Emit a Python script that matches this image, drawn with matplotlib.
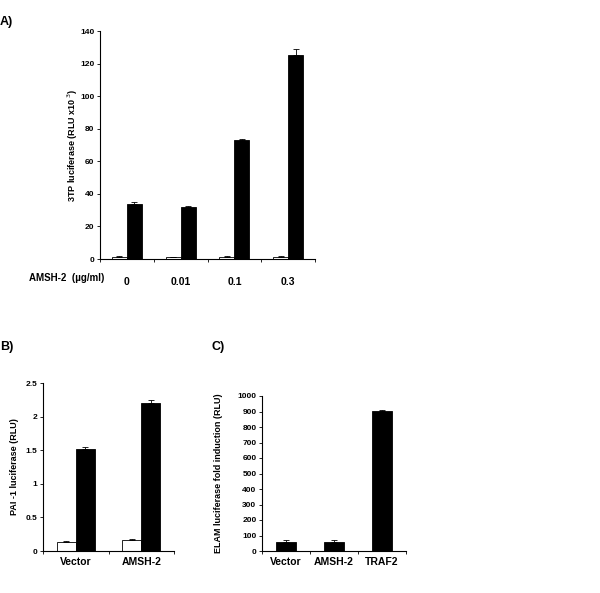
import matplotlib

matplotlib.use("Agg")

import matplotlib.pyplot as plt
import numpy as np

plt.rcParams["font.family"] = ["Liberation Sans", "DejaVu Sans"]

# Panel A: 3TP luciferase
a_doses = ["0", "0.01", "0.1", "0.3"]
a_white = [1.5, 1.0, 1.5, 1.5]
a_black = [34, 32, 73, 125]
a_white_err = [0.2, 0.1, 0.2, 0.2]
a_black_err = [1.0, 0.3, 0.5, 4.0]

# Panel B: PAI-1 luciferase
b_groups = ["Vector", "AMSH-2"]
b_white = [0.13, 0.16]
b_black = [1.52, 2.20]
b_white_err = [0.015, 0.02]
b_black_err = [0.03, 0.05]

# Panel C: ELAM luciferase
c_groups = ["Vector", "AMSH-2", "TRAF2"]
c_values = [60, 55, 905]
c_err = [8, 15, 5]

W, H = 600, 593
fig = plt.figure(figsize=(W / 100, H / 100), dpi=100)


def px_axes(left, top, right, bottom):
    return fig.add_axes([left / W, 1 - bottom / H, (right - left) / W, (bottom - top) / H])


def style_axes(ax, n):
    for s in ("top", "right"):
        ax.spines[s].set_visible(False)
    for s in ("left", "bottom"):
        ax.spines[s].set_linewidth(0.8)
    ax.set_xlim(0, n)
    ax.set_xticks(np.arange(n) + 0.5)
    ax.set_xticks(np.arange(n + 1), minor=True)
    ax.tick_params(axis="x", which="major", length=0, pad=4, labelsize=7.5)
    ax.tick_params(axis="x", which="minor", length=2.5, width=0.6)
    ax.tick_params(axis="y", length=2.5, width=0.6, labelsize=6, pad=1.5)
    for lbl in ax.get_xticklabels():
        lbl.set_fontweight("bold")
    for lbl in ax.get_yticklabels():
        lbl.set_fontweight("bold")


def paired_bars(ax, white, black, werr, berr, bw):
    x = np.arange(len(white)) + 0.5
    ax.bar(x - bw / 2, white, bw, color="white", edgecolor="black", linewidth=0.6, zorder=2)
    ax.bar(x + bw / 2, black, bw, color="black", edgecolor="black", linewidth=0.6, zorder=2)
    ax.errorbar(x - bw / 2, white, yerr=[np.zeros(len(werr)), werr], fmt="none",
                ecolor="black", elinewidth=0.6, capsize=2.5, capthick=0.6, zorder=3)
    ax.errorbar(x + bw / 2, black, yerr=[np.zeros(len(berr)), berr], fmt="none",
                ecolor="black", elinewidth=0.6, capsize=2.5, capthick=0.6, zorder=3)


# A
ax_a = px_axes(100, 31, 315, 259)
paired_bars(ax_a, a_white, a_black, a_white_err, a_black_err, 0.28)
ax_a.set_ylim(0, 140)
ax_a.set_yticks(range(0, 141, 20))
ax_a.set_xticklabels(a_doses)
style_axes(ax_a, len(a_doses))
ax_a.tick_params(axis="x", which="major", pad=13)
ax_a.set_ylabel("3TP luciferase (RLU x10$^{\\ 3}$)", fontsize=6.5, fontweight="bold", labelpad=0)
fig.text(67 / W, 1 - 278 / H, "AMSH-2  (\u00b5g/ml)", ha="center", va="center",
         fontsize=7, fontweight="bold")
fig.text(0, 1 - 22 / H, "A)", ha="left", va="center", fontsize=9, fontweight="bold")

# B
ax_b = px_axes(43, 383, 174, 551)
paired_bars(ax_b, b_white, b_black, b_white_err, b_black_err, 0.29)
ax_b.set_ylim(0, 2.5)
ax_b.set_yticks([0, 0.5, 1, 1.5, 2, 2.5])
ax_b.set_yticklabels(["0", "0.5", "1", "1.5", "2", "2.5"])
ax_b.set_xticklabels(b_groups)
style_axes(ax_b, len(b_groups))
ax_b.set_ylabel("PAI -1 luciferase (RLU)", fontsize=6.5, fontweight="bold", labelpad=4.5)
fig.text(0, 1 - 347 / H, "B)", ha="left", va="center", fontsize=9, fontweight="bold")

# C
ax_c = px_axes(262, 396, 406, 551)
xc = np.arange(len(c_values)) + 0.5
ax_c.bar(xc, c_values, 0.42, color="black", edgecolor="black", linewidth=0.6, zorder=2)
ax_c.errorbar(xc, c_values, yerr=[np.zeros(len(c_err)), c_err], fmt="none",
              ecolor="black", elinewidth=0.6, capsize=2.5, capthick=0.6, zorder=3)
ax_c.set_ylim(0, 1000)
ax_c.set_yticks(range(0, 1001, 100))
ax_c.set_xticklabels(c_groups)
style_axes(ax_c, len(c_values))
ax_c.set_ylabel("ELAM luciferase fold induction (RLU)", fontsize=6.5, fontweight="bold", labelpad=10.5)
fig.text(212 / W, 1 - 347 / H, "C)", ha="left", va="center", fontsize=9, fontweight="bold")

fig.savefig("out.png", dpi=100)
